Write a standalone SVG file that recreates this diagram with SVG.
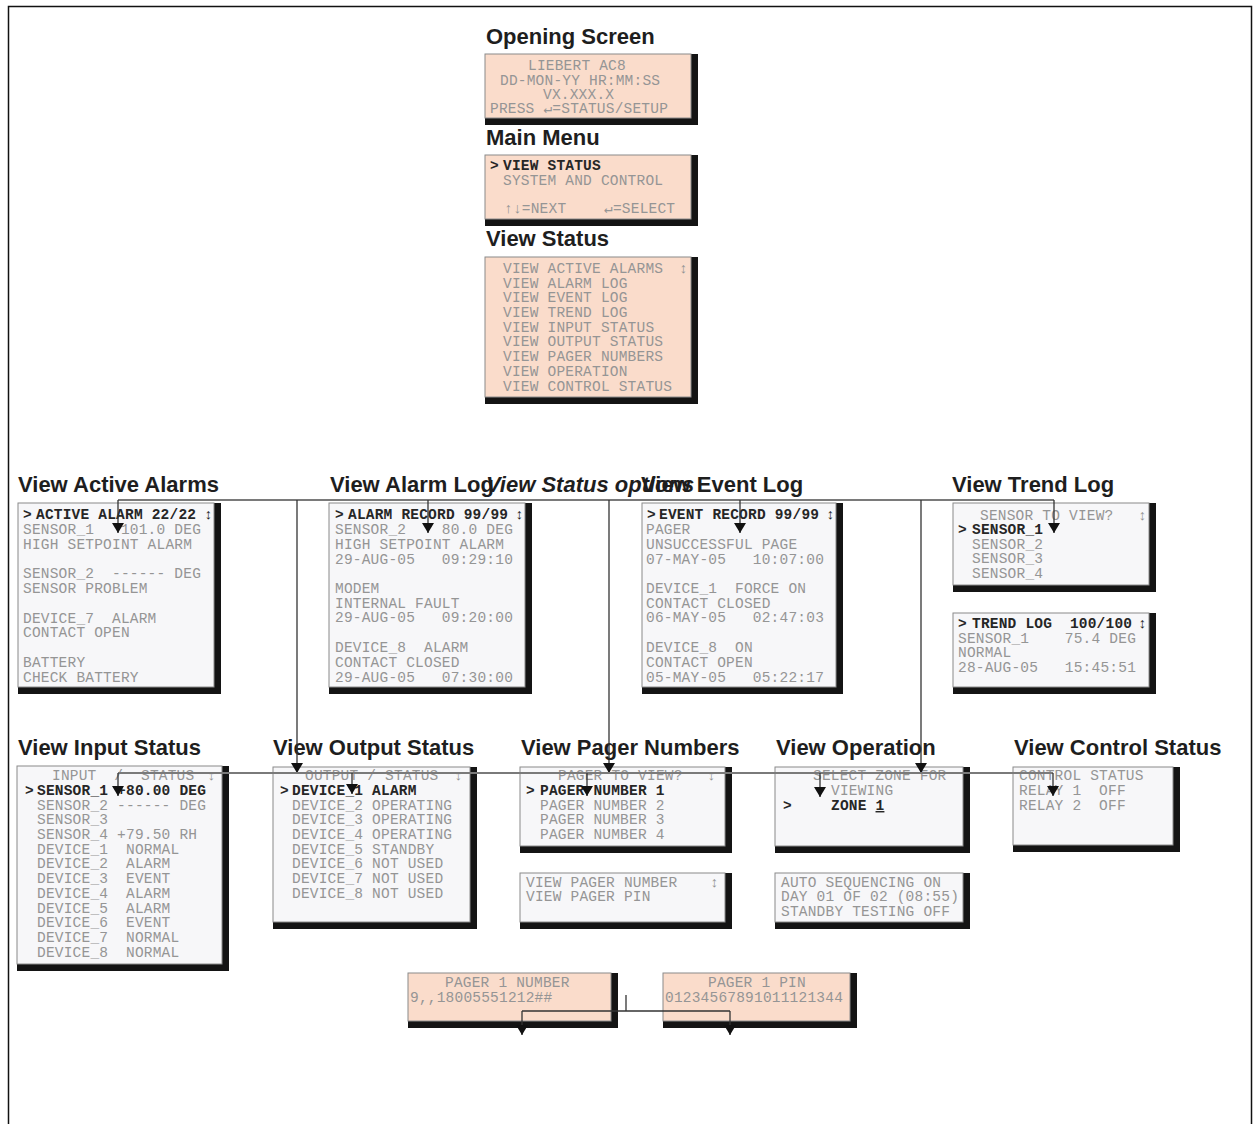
<svg xmlns="http://www.w3.org/2000/svg" width="1257" height="1124" viewBox="0 0 1257 1124">
<style>
.ttl{font-family:"Liberation Sans",Arial,sans-serif;font-weight:bold;font-size:22px;fill:#1e1e1e}
.it{font-style:italic}
.m{font-family:"Liberation Mono","DejaVu Sans Mono",monospace;font-size:14.5px;letter-spacing:0.2px;fill:#959595;white-space:pre}
.b{font-weight:bold;fill:#262626}
.ud{font-weight:bold}
.sh{fill:#141414}
.pe{fill:#fadccb;stroke:#8a8a8a;stroke-width:1}
.lt{fill:#f7f7f9;stroke:#8a8a8a;stroke-width:1}
.bus{stroke:#7a7a7a;stroke-width:2;fill:none}
.ln{stroke:#333;stroke-width:1.3;fill:none}
.frame{fill:none;stroke:#111;stroke-width:1.5}
</style>
<defs>
<marker id="ah" viewBox="0 0 10 12" refX="10" refY="6" markerWidth="10" markerHeight="12" markerUnits="userSpaceOnUse" orient="auto">
<path d="M0,0 L10,6 L0,12 z" fill="#111"/>
</marker>
</defs>
<rect width="1257" height="1124" fill="#fff"/>
<rect class="frame" x="8.5" y="6.5" width="1243" height="1130"/>

<g id="opening-screen">
<text class="ttl" x="486" y="44">Opening Screen</text>
<rect class="sh" x="485" y="54" width="213" height="71"/>
<rect class="pe" x="485" y="54" width="206" height="64"/>
<text class="m" x="528" y="70">LIEBERT AC8</text>
<text class="m" x="500" y="85">DD-MON-YY HR:MM:SS</text>
<text class="m" x="543" y="99">VX.XXX.X</text>
<text class="m" x="490" y="113">PRESS ↵=STATUS/SETUP</text>
</g>

<g id="main-menu">
<text class="ttl" x="486" y="145">Main Menu</text>
<rect class="sh" x="485" y="155" width="213" height="71"/>
<rect class="pe" x="485" y="155" width="206" height="64"/>
<text class="m b" x="490" y="170">&gt;</text>
<text class="m b" x="503" y="170">VIEW STATUS</text>
<text class="m" x="503" y="185">SYSTEM AND CONTROL</text>
<text class="m" x="504" y="213">↑↓=NEXT</text>
<text class="m" x="604" y="213">↵=SELECT</text>
</g>

<g id="view-status">
<text class="ttl" x="486" y="246">View Status</text>
<rect class="sh" x="485" y="257" width="213" height="147"/>
<rect class="pe" x="485" y="257" width="206" height="140"/>
<text class="m" x="503" y="273">VIEW ACTIVE ALARMS</text>
<text class="m ud" x="679" y="273">↕</text>
<text class="m" x="503" y="288">VIEW ALARM LOG</text>
<text class="m" x="503" y="302">VIEW EVENT LOG</text>
<text class="m" x="503" y="317">VIEW TREND LOG</text>
<text class="m" x="503" y="332">VIEW INPUT STATUS</text>
<text class="m" x="503" y="346">VIEW OUTPUT STATUS</text>
<text class="m" x="503" y="361">VIEW PAGER NUMBERS</text>
<text class="m" x="503" y="376">VIEW OPERATION</text>
<text class="m" x="503" y="391">VIEW CONTROL STATUS</text>
</g>

<g id="view-active-alarms">
<text class="ttl" x="18" y="492">View Active Alarms</text>
<rect class="sh" x="18" y="503" width="203" height="191"/>
<rect class="lt" x="18" y="503" width="196" height="184"/>
<text class="m b" x="23" y="519">&gt;</text>
<text class="m b" x="36" y="519">ACTIVE ALARM 22/22</text>
<text class="m b" x="204" y="519">↕</text>
<text class="m" x="23" y="534">SENSOR_1   101.0 DEG</text>
<text class="m" x="23" y="549">HIGH SETPOINT ALARM</text>
<text class="m" x="23" y="578">SENSOR_2  ------ DEG</text>
<text class="m" x="23" y="593">SENSOR PROBLEM</text>
<text class="m" x="23" y="623">DEVICE_7  ALARM</text>
<text class="m" x="23" y="637">CONTACT OPEN</text>
<text class="m" x="23" y="667">BATTERY</text>
<text class="m" x="23" y="682">CHECK BATTERY</text>
</g>

<g id="view-alarm-log">
<text class="ttl" x="330" y="492">View Alarm Log</text>
<rect class="sh" x="329" y="503" width="203" height="191"/>
<rect class="lt" x="329" y="503" width="196" height="184"/>
<text class="m b" x="335" y="519">&gt;</text>
<text class="m b" x="348" y="519">ALARM RECORD 99/99</text>
<text class="m b" x="515" y="519">↕</text>
<text class="m" x="335" y="534">SENSOR_2    80.0 DEG</text>
<text class="m" x="335" y="549">HIGH SETPOINT ALARM</text>
<text class="m" x="335" y="564">29-AUG-05   09:29:10</text>
<text class="m" x="335" y="593">MODEM</text>
<text class="m" x="335" y="608">INTERNAL FAULT</text>
<text class="m" x="335" y="622">29-AUG-05   09:20:00</text>
<text class="m" x="335" y="652">DEVICE_8  ALARM</text>
<text class="m" x="335" y="667">CONTACT CLOSED</text>
<text class="m" x="335" y="682">29-AUG-05   07:30:00</text>
</g>

<g id="view-event-log">
<text class="ttl" x="641" y="492">View Event Log</text>
<rect class="sh" x="642" y="503" width="201" height="191"/>
<rect class="lt" x="642" y="503" width="194" height="184"/>
<text class="m b" x="647" y="519">&gt;</text>
<text class="m b" x="659" y="519">EVENT RECORD 99/99</text>
<text class="m b" x="826" y="519">↕</text>
<text class="m" x="646" y="534">PAGER</text>
<text class="m" x="646" y="549">UNSUCCESSFUL PAGE</text>
<text class="m" x="646" y="564">07-MAY-05   10:07:00</text>
<text class="m" x="646" y="593">DEVICE_1  FORCE ON</text>
<text class="m" x="646" y="608">CONTACT CLOSED</text>
<text class="m" x="646" y="622">06-MAY-05   02:47:03</text>
<text class="m" x="646" y="652">DEVICE_8  ON</text>
<text class="m" x="646" y="667">CONTACT OPEN</text>
<text class="m" x="646" y="682">05-MAY-05   05:22:17</text>
</g>

<g id="view-trend-log">
<text class="ttl" x="952" y="492">View Trend Log</text>
<rect class="sh" x="953" y="503" width="203" height="89"/>
<rect class="lt" x="953" y="503" width="196" height="82"/>
<text class="m" x="980" y="520">SENSOR TO VIEW?</text>
<text class="m ud" x="1138" y="520">↕</text>
<text class="m b" x="958" y="534">&gt;</text>
<text class="m b" x="972" y="534">SENSOR_1</text>
<text class="m" x="972" y="549">SENSOR_2</text>
<text class="m" x="972" y="563">SENSOR_3</text>
<text class="m" x="972" y="578">SENSOR_4</text>
</g>

<g id="trend-log-record">
<rect class="sh" x="953" y="613" width="203" height="81"/>
<rect class="lt" x="953" y="613" width="196" height="74"/>
<text class="m b" x="958" y="628">&gt;</text>
<text class="m b" x="972" y="628">TREND LOG  100/100</text>
<text class="m b" x="1138" y="628">↕</text>
<text class="m" x="958" y="643">SENSOR_1    75.4 DEG</text>
<text class="m" x="958" y="657">NORMAL</text>
<text class="m" x="958" y="672">28-AUG-05   15:45:51</text>
</g>

<g id="view-input-status">
<text class="ttl" x="18" y="755">View Input Status</text>
<rect class="sh" x="17" y="766" width="212" height="205"/>
<rect class="lt" x="17" y="766" width="205" height="198"/>
<text class="m" x="52" y="780">INPUT  /  STATUS</text>
<text class="m ud" x="207" y="780">↕</text>
<text class="m b" x="25" y="795">&gt;</text>
<text class="m b" x="37" y="795">SENSOR_1 +80.00 DEG</text>
<text class="m" x="37" y="810">SENSOR_2 ------ DEG</text>
<text class="m" x="37" y="824">SENSOR_3</text>
<text class="m" x="37" y="839">SENSOR_4 +79.50 RH</text>
<text class="m" x="37" y="854">DEVICE_1  NORMAL</text>
<text class="m" x="37" y="868">DEVICE_2  ALARM</text>
<text class="m" x="37" y="883">DEVICE_3  EVENT</text>
<text class="m" x="37" y="898">DEVICE_4  ALARM</text>
<text class="m" x="37" y="913">DEVICE_5  ALARM</text>
<text class="m" x="37" y="927">DEVICE_6  EVENT</text>
<text class="m" x="37" y="942">DEVICE_7  NORMAL</text>
<text class="m" x="37" y="957">DEVICE_8  NORMAL</text>
</g>

<g id="view-output-status">
<text class="ttl" x="273" y="755">View Output Status</text>
<rect class="sh" x="273" y="767" width="204" height="162"/>
<rect class="lt" x="273" y="767" width="197" height="155"/>
<text class="m" x="305" y="780">OUTPUT / STATUS</text>
<text class="m ud" x="454" y="780">↕</text>
<text class="m b" x="280" y="795">&gt;</text>
<text class="m b" x="292" y="795">DEVICE_1 ALARM</text>
<text class="m" x="292" y="810">DEVICE_2 OPERATING</text>
<text class="m" x="292" y="824">DEVICE_3 OPERATING</text>
<text class="m" x="292" y="839">DEVICE_4 OPERATING</text>
<text class="m" x="292" y="854">DEVICE_5 STANDBY</text>
<text class="m" x="292" y="868">DEVICE_6 NOT USED</text>
<text class="m" x="292" y="883">DEVICE_7 NOT USED</text>
<text class="m" x="292" y="898">DEVICE_8 NOT USED</text>
</g>

<g id="view-pager-numbers">
<text class="ttl" x="521" y="755">View Pager Numbers</text>
<rect class="sh" x="520" y="767" width="212" height="86"/>
<rect class="lt" x="520" y="767" width="205" height="79"/>
<text class="m" x="558" y="780">PAGER TO VIEW?</text>
<text class="m ud" x="707" y="780">↕</text>
<text class="m b" x="526" y="795">&gt;</text>
<text class="m b" x="540" y="795">PAGER NUMBER 1</text>
<text class="m" x="540" y="810">PAGER NUMBER 2</text>
<text class="m" x="540" y="824">PAGER NUMBER 3</text>
<text class="m" x="540" y="839">PAGER NUMBER 4</text>
</g>

<g id="pager-view-select">
<rect class="sh" x="520" y="873" width="212" height="56"/>
<rect class="lt" x="520" y="873" width="205" height="49"/>
<text class="m" x="526" y="887">VIEW PAGER NUMBER</text>
<text class="m ud" x="710" y="887">↕</text>
<text class="m" x="526" y="901">VIEW PAGER PIN</text>
</g>

<g id="view-operation">
<text class="ttl" x="776" y="755">View Operation</text>
<rect class="sh" x="775" y="767" width="195" height="86"/>
<rect class="lt" x="775" y="767" width="188" height="79"/>
<text class="m" x="813" y="780">SELECT ZONE FOR</text>
<text class="m" x="831" y="795">VIEWING</text>
<text class="m b" x="783" y="810">&gt;</text>
<text class="m b" x="831" y="810">ZONE <tspan text-decoration="underline">1</tspan></text>
</g>

<g id="operation-sequencing">
<rect class="sh" x="775" y="873" width="195" height="56"/>
<rect class="lt" x="775" y="873" width="188" height="49"/>
<text class="m" x="781" y="887">AUTO SEQUENCING ON</text>
<text class="m" x="781" y="901">DAY 01 OF 02 (08:55)</text>
<text class="m" x="781" y="916">STANDBY TESTING OFF</text>
</g>

<g id="view-control-status">
<text class="ttl" x="1014" y="755">View Control Status</text>
<rect class="sh" x="1013" y="767" width="167" height="85"/>
<rect class="lt" x="1013" y="767" width="160" height="78"/>
<text class="m" x="1019" y="780">CONTROL STATUS</text>
<text class="m" x="1019" y="795">RELAY 1  OFF</text>
<text class="m" x="1019" y="810">RELAY 2  OFF</text>
</g>

<g id="pager-1-number">
<rect class="sh" x="408" y="973" width="210" height="55"/>
<rect class="pe" x="408" y="973" width="203" height="48"/>
<text class="m" x="445" y="987">PAGER 1 NUMBER</text>
<text class="m" x="410" y="1002">9,,18005551212##</text>
</g>

<g id="pager-1-pin">
<rect class="sh" x="663" y="973" width="194" height="55"/>
<rect class="pe" x="663" y="973" width="187" height="48"/>
<text class="m" x="708" y="987">PAGER 1 PIN</text>
<text class="m" x="665" y="1002">01234567891011121344</text>
</g>

<g id="connectors">
<path class="bus" d="M118,500 H1054"/>
<path class="ln" d="M118,500 V533" marker-end="url(#ah)"/>
<path class="ln" d="M297,500 V773" marker-end="url(#ah)"/>
<path class="ln" d="M428,500 V533" marker-end="url(#ah)"/>
<path class="ln" d="M609,500 V773" marker-end="url(#ah)"/>
<path class="ln" d="M740,500 V533" marker-end="url(#ah)"/>
<path class="ln" d="M921,500 V773" marker-end="url(#ah)"/>
<path class="ln" d="M1054,500 V533" marker-end="url(#ah)"/>
<path class="bus" d="M118,773 H1053"/>
<path class="ln" d="M118,773 V796" marker-end="url(#ah)"/>
<path class="ln" d="M352,773 V794" marker-end="url(#ah)"/>
<path class="ln" d="M587,773 V796" marker-end="url(#ah)"/>
<path class="ln" d="M820,773 V797" marker-end="url(#ah)"/>
<path class="ln" d="M1053,773 V796" marker-end="url(#ah)"/>
<path class="ln" d="M626,995 V1011"/>
<path class="ln" d="M522,1011 H730"/>
<path class="ln" d="M522,1011 V1035" marker-end="url(#ah)"/>
<path class="ln" d="M730,1011 V1035" marker-end="url(#ah)"/>
<text class="ttl it" x="486" y="492">View Status options</text>
</g>
</svg>
